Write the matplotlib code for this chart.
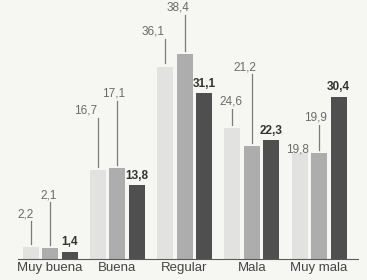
import numpy as np
import matplotlib.pyplot as plt

categories = ["Muy buena", "Buena", "Regular", "Mala", "Muy mala"]
serie_a = [2.2, 16.7, 36.1, 24.6, 19.8]
serie_b = [2.1, 17.1, 38.4, 21.2, 19.9]
serie_c = [1.4, 13.8, 31.1, 22.3, 30.4]

# label placement for the two lighter series (x shift in px, label height in data units)
a_dx = [-4.5, -12.5, -11.5, -1.5, -2]
a_ly = [8.4, 27.8, 42.6, 29.5, 20.6]
b_dx = [-1, -4, -7, -7, -4]
b_ly = [12.0, 31.0, 47.1, 36.0, 26.5]

plt.rcParams['font.family'] = ['Liberation Sans Narrow', 'Liberation Sans', 'DejaVu Sans']

bg = "#f6f6f3"
fig = plt.figure(figsize=(3.67, 2.8), dpi=100, facecolor=bg)
ax = fig.add_axes([0, 0, 1, 1])
ax.set_facecolor(bg)
ax.axis("off")

grp = 67.25  # px per category
x = np.arange(len(categories))
w = 16 / grp
off = 19.5 / grp

colors = ["#e2e2e1", "#adadad", "#4f4f4f"]
ax.bar(x - off, serie_a, w, color=colors[0])
ax.bar(x, serie_b, w, color=colors[1])
ax.bar(x + off, serie_c, w, color=colors[2])

ax.set_xlim(-50 / grp, (367 - 50) / grp)
ax.set_ylim(-21 / 5.33, 259 / 5.33)
ax.axhline(0, xmin=18 / 367, xmax=358 / 367, color="#5a5a5a", lw=0.8)

lab_col = "#6a6a6a"
for series, pos, dxs, lys in [(serie_a, x - off, a_dx, a_ly), (serie_b, x, b_dx, b_ly)]:
    for v, xp, dx, ly in zip(series, pos, dxs, lys):
        ax.text(xp + dx / grp, ly, f"{v:.1f}".replace(".", ","), ha="center", va="center",
                fontsize=8.5, color=lab_col)
        top = ly - 1.3
        bot = v + 0.6
        if top - bot > 1:
            ax.plot([xp, xp], [bot, top], color="#7a7a7a", lw=0.9)

for v, xp in zip(serie_c, x + off):
    ax.annotate(f"{v:.1f}".replace(".", ","), (xp, v), xytext=(0, 2.5), textcoords="offset points",
                ha="center", va="bottom", fontsize=8.5, fontweight="bold", color="#333333")

for xi, c in zip(x, categories):
    ax.text(xi, -1.75, c, ha="center", va="center", fontsize=9.5, color="#444444",
            family=["Liberation Sans", "DejaVu Sans"])

fig.savefig("out.png", dpi=100, facecolor=bg)
